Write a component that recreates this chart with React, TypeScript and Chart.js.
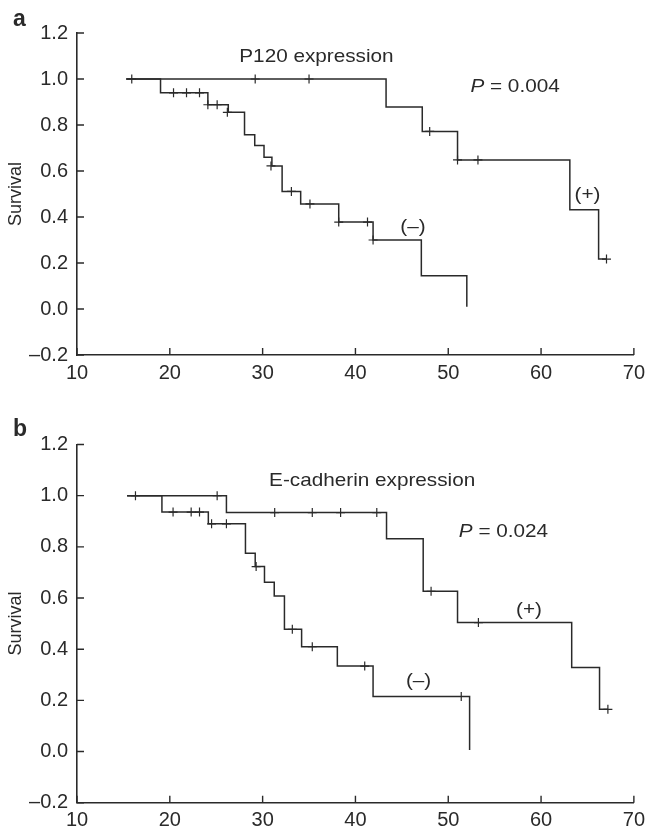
import React, { useEffect, useRef } from "react";
import { Chart, registerables } from "chart.js";

Chart.register(...registerables);

// ---------- shared axis ticks ----------
const xTickValues = [10, 20, 30, 40, 50, 60, 70];
const yTickValues = [-0.2, 0, 0.2, 0.4, 0.6, 0.8, 1.0, 1.2];

// ---------- panel a : P120 expression ----------
const aPosTime = [15.3, 43.3, 47.2, 51.0, 63.1, 66.2, 67.05];
const aPosSurv = [1.0, 0.878, 0.772, 0.648, 0.432, 0.217, 0.217];
const aPosCensorTime = [15.9, 29.2, 35.0, 48.0, 51.0, 53.2, 67.05];
const aPosCensorSurv = [1.0, 1.0, 1.0, 0.772, 0.648, 0.648, 0.217];

const aNegTime = [15.3, 19.0, 24.1, 26.3, 28.05, 29.15, 30.15, 31.0, 32.1, 34.1, 38.2, 41.9, 47.1, 52.0];
const aNegSurv = [1.0, 0.94, 0.888, 0.855, 0.758, 0.711, 0.66, 0.622, 0.511, 0.457, 0.378, 0.3, 0.145, 0.01];
const aNegCensorTime = [20.4, 21.8, 23.2, 24.1, 25.1, 26.2, 30.9, 33.1, 35.1, 38.2, 41.3, 41.9];
const aNegCensorSurv = [0.94, 0.94, 0.94, 0.888, 0.888, 0.855, 0.622, 0.511, 0.457, 0.378, 0.378, 0.3];

// ---------- panel b : E-cadherin expression ----------
const bPosTime = [15.4, 26.1, 43.35, 47.3, 51.0, 63.3, 66.3, 67.2];
const bPosSurv = [1.0, 0.934, 0.832, 0.626, 0.504, 0.328, 0.165, 0.165];
const bPosCensorTime = [16.3, 25.1, 31.3, 35.35, 38.4, 42.3, 48.15, 53.25, 67.2];
const bPosCensorSurv = [1.0, 1.0, 0.934, 0.934, 0.934, 0.934, 0.626, 0.504, 0.165];

const bNegTime = [15.4, 19.15, 24.15, 28.15, 29.2, 30.2, 31.25, 32.35, 34.2, 38.05, 41.9, 52.3];
const bNegSurv = [1.0, 0.936, 0.89, 0.775, 0.723, 0.662, 0.608, 0.478, 0.41, 0.334, 0.215, 0.006];
const bNegCensorTime = [20.35, 22.3, 23.2, 24.5, 26.1, 29.3, 33.2, 35.35, 41.0, 51.4];
const bNegCensorSurv = [0.936, 0.936, 0.936, 0.89, 0.89, 0.723, 0.478, 0.41, 0.334, 0.215];

// ---------- texts ----------
const aLetter = "a";
const bLetter = "b";
const aTitle = "P120 expression";
const bTitle = "E-cadherin expression";
const aPValue = "0.004";
const bPValue = "0.024";
const yTitle = "Survival";
const posLabel = "(+)";
const negLabel = "(\u2013)";

const INK = "#2a2a2a";
const FONT = "'Liberation Sans', Arial, Helvetica, sans-serif";

type Part = { text: string; italic?: boolean };
type Note = { parts: Part[]; x: number; y: number };

const toXY = (xs: number[], ys: number[]) => xs.map((x, i) => ({ x, y: ys[i] }));

function drawParts(ctx: CanvasRenderingContext2D, parts: Part[], cx: number, cy: number, size: number, stretch: number) {
  let total = 0;
  const widths = parts.map((p) => {
    ctx.font = `${p.italic ? "italic " : ""}${size}px ${FONT}`;
    const w = ctx.measureText(p.text).width;
    total += w;
    return w;
  });
  ctx.save();
  ctx.translate(cx - (total * stretch) / 2, cy);
  ctx.scale(stretch, 1);
  ctx.textBaseline = "middle";
  ctx.textAlign = "left";
  ctx.fillStyle = INK;
  let off = 0;
  parts.forEach((p, i) => {
    ctx.font = `${p.italic ? "italic " : ""}${size}px ${FONT}`;
    ctx.fillText(p.text, off, 0);
    off += widths[i];
  });
  ctx.restore();
}

const inwardTicks = {
  id: "inwardTicks",
  afterDraw(chart: any) {
    const { ctx, chartArea, scales } = chart;
    const xs = scales.x;
    const ys = scales.y;
    ctx.save();
    ctx.strokeStyle = INK;
    ctx.lineWidth = 1.4;
    ctx.beginPath();
    xs.ticks.forEach((t: any) => {
      const px = xs.getPixelForValue(t.value);
      ctx.moveTo(px, chartArea.bottom);
      ctx.lineTo(px, chartArea.bottom - 7);
    });
    ys.ticks.forEach((t: any) => {
      const py = ys.getPixelForValue(t.value);
      ctx.moveTo(chartArea.left, py);
      ctx.lineTo(chartArea.left + 7, py);
    });
    ctx.stroke();
    ctx.restore();
  },
};

type PanelCfg = {
  letter: string;
  posTime: number[];
  posSurv: number[];
  posCT: number[];
  posCS: number[];
  negTime: number[];
  negSurv: number[];
  negCT: number[];
  negCS: number[];
  notes: Note[];
  height: number;
  top: number;
  padTop: number;
  padBottom: number;
  xAxisHeight: number;
};

function Panel({ cfg }: { cfg: PanelCfg }) {
  const ref = useRef<HTMLCanvasElement | null>(null);
  useEffect(() => {
    if (!ref.current) return;
    const notesPlugin = {
      id: "notes",
      afterDraw(chart: any) {
        const { ctx, scales } = chart;
        cfg.notes.forEach((n) => {
          drawParts(ctx, n.parts, scales.x.getPixelForValue(n.x), scales.y.getPixelForValue(n.y), 18.5, 1.12);
        });
        ctx.save();
        ctx.fillStyle = INK;
        ctx.font = `bold 23px ${FONT}`;
        ctx.textBaseline = "alphabetic";
        ctx.textAlign = "left";
        ctx.fillText(cfg.letter, 13, 26);
        ctx.restore();
      },
    };
    const lineDs = (data: any) => ({
      type: "line" as const,
      data,
      stepped: "before" as const,
      borderColor: INK,
      borderWidth: 1.5,
      pointRadius: 0,
      fill: false,
      tension: 0,
    });
    const censorDs = (data: any) => ({
      type: "scatter" as const,
      data,
      pointStyle: "cross" as const,
      pointRadius: 4.5,
      borderColor: INK,
      backgroundColor: INK,
      borderWidth: 1.2,
    });
    const chart = new Chart(ref.current, {
      type: "scatter",
      data: {
        datasets: [
          lineDs(toXY(cfg.posTime, cfg.posSurv)),
          lineDs(toXY(cfg.negTime, cfg.negSurv)),
          censorDs(toXY(cfg.posCT, cfg.posCS)),
          censorDs(toXY(cfg.negCT, cfg.negCS)),
        ] as any,
      },
      options: {
        responsive: false,
        animation: false,
        events: [],
        layout: { padding: { top: cfg.padTop, right: 13, bottom: cfg.padBottom, left: 0 } },
        plugins: { legend: { display: false }, tooltip: { enabled: false } },
        scales: {
          x: {
            type: "linear",
            min: 10,
            max: 70,
            afterBuildTicks: (s: any) => {
              s.ticks = xTickValues.map((v) => ({ value: v }));
            },
            afterFit: (s: any) => {
              s.height = cfg.xAxisHeight;
            },
            grid: { display: false, drawTicks: false, tickLength: 0 },
            border: { display: true, color: INK, width: 1.6 },
            ticks: {
              padding: 6,
              color: INK,
              font: { family: FONT, size: 20 },
              maxRotation: 0,
              autoSkip: false,
              callback: (v: any) => String(v),
            },
          },
          y: {
            type: "linear",
            min: -0.2,
            max: 1.2,
            afterBuildTicks: (s: any) => {
              s.ticks = yTickValues.map((v) => ({ value: v }));
            },
            afterFit: (s: any) => {
              s.width = 77;
            },
            grid: { display: false, drawTicks: false, tickLength: 0 },
            border: { display: true, color: INK, width: 1.6 },
            ticks: {
              padding: 9,
              color: INK,
              font: { family: FONT, size: 20 },
              autoSkip: false,
              callback: (v: any) => Number(v).toFixed(1).replace("-", "\u2013"),
            },
            title: {
              display: true,
              text: yTitle,
              color: INK,
              font: { family: FONT, size: 18 },
              padding: { top: 5, bottom: 0 },
            },
          },
        },
      } as any,
      plugins: [inwardTicks, notesPlugin],
    });
    return () => chart.destroy();
  }, [cfg]);
  return (
    <canvas
      ref={ref}
      width={651}
      height={cfg.height}
      style={{ position: "absolute", left: 0, top: cfg.top, width: 651, height: cfg.height, display: "block" }}
    />
  );
}

const panelA: PanelCfg = {
  letter: aLetter,
  posTime: aPosTime,
  posSurv: aPosSurv,
  posCT: aPosCensorTime,
  posCS: aPosCensorSurv,
  negTime: aNegTime,
  negSurv: aNegSurv,
  negCT: aNegCensorTime,
  negCS: aNegCensorSurv,
  notes: [
    { parts: [{ text: aTitle }], x: 35.8, y: 1.097 },
    { parts: [{ text: "P", italic: true }, { text: " = " + aPValue }], x: 57.2, y: 0.967 },
    { parts: [{ text: posLabel }], x: 65.0, y: 0.497 },
    { parts: [{ text: negLabel }], x: 46.2, y: 0.358 },
  ],
  height: 410,
  top: 0,
  padTop: 33,
  padBottom: 15,
  xAxisHeight: 40,
};

const panelB: PanelCfg = {
  letter: bLetter,
  posTime: bPosTime,
  posSurv: bPosSurv,
  posCT: bPosCensorTime,
  posCS: bPosCensorSurv,
  negTime: bNegTime,
  negSurv: bNegSurv,
  negCT: bNegCensorTime,
  negCS: bNegCensorSurv,
  notes: [
    { parts: [{ text: bTitle }], x: 41.8, y: 1.056 },
    { parts: [{ text: "P", italic: true }, { text: " = " + bPValue }], x: 55.95, y: 0.859 },
    { parts: [{ text: posLabel }], x: 58.7, y: 0.552 },
    { parts: [{ text: negLabel }], x: 46.8, y: 0.275 },
  ],
  height: 422,
  top: 410,
  padTop: 34.5,
  padBottom: 0,
  xAxisHeight: 29.3,
};

export default function App() {
  return (
    <div style={{ position: "fixed", left: 0, top: 0, width: 651, height: 832, background: "#fff", overflow: "hidden" }}>
      <Panel cfg={panelA} />
      <Panel cfg={panelB} />
    </div>
  );
}
